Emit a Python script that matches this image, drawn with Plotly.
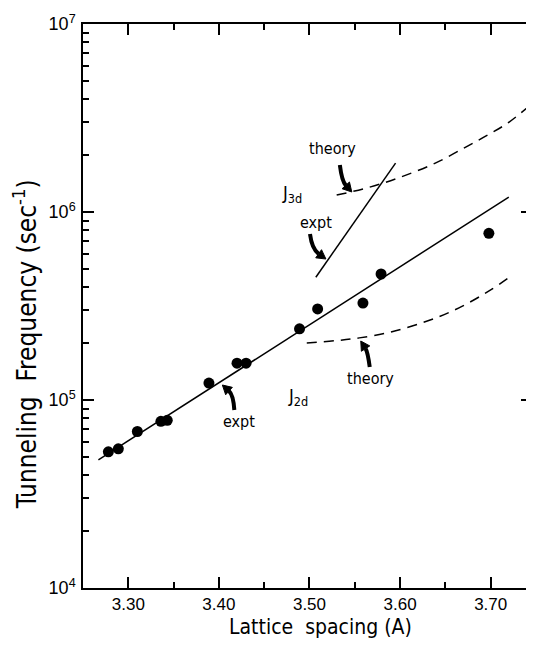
import plotly.graph_objects as go

# ---------------- data ----------------
expt_x = [3.278, 3.289, 3.310, 3.336, 3.343, 3.389, 3.420, 3.430, 3.489, 3.509, 3.559, 3.579, 3.698]
expt_y = [5.3e4, 5.5e4, 6.8e4, 7.7e4, 7.8e4, 1.23e5, 1.57e5, 1.57e5, 2.39e5, 3.05e5, 3.28e5, 4.68e5, 7.7e5]

fit2d_x = [3.267, 3.720]
fit2d_y = [4.8e4, 1.2e6]

fit3d_x = [3.507, 3.595]
fit3d_y = [4.5e5, 1.82e6]

theory2d_x = [3.497, 3.530, 3.555, 3.590, 3.630, 3.665, 3.700, 3.720]
theory2d_y = [2.01e5, 2.07e5, 2.14e5, 2.30e5, 2.63e5, 3.09e5, 3.85e5, 4.47e5]

theory3d_x = [3.530, 3.565, 3.600, 3.640, 3.675, 3.700, 3.720, 3.745]
theory3d_y = [1.23e6, 1.35e6, 1.53e6, 1.83e6, 2.25e6, 2.62e6, 3.00e6, 3.75e6]

x_major = [3.30, 3.40, 3.50, 3.60, 3.70]
x_major_labels = ["3.30", "3.40", "3.50", "3.60", "3.70"]
x_minor = [3.35, 3.45, 3.55, 3.65]
y_major = [1e4, 1e5, 1e6, 1e7]
y_major_labels = ["10<sup>4</sup>", "10<sup>5</sup>", "10<sup>6</sup>", "10<sup>7</sup>"]
y_minor = [m * 10 ** e for e in (4, 5, 6) for m in range(2, 10)]

# ---------------- layout geometry (window pixels; page body has 8px margin) ----------------
OFF = 8
WIN_W, WIN_H = 534, 649
W, H = WIN_W - OFF, WIN_H - OFF
PL, PT, PB = 83, 24, 588          # plot edges in window pixels
L, T, R = PL - OFF, PT - OFF, 0
B = WIN_H - PB
PW, PH = W - L - R, H - T - B
X0 = 3.25
X1 = X0 + PW / 910.0

NARROW = "DejaVu Sans Condensed, Liberation Sans Narrow, Arial Narrow, sans-serif"
REG = "Liberation Sans, Arial, sans-serif"


def px(xw, yw):
    """window pixel -> paper coordinates"""
    return ((xw - PL) / PW, (PB - yw) / PH)


def arrow_shapes(tail, ctrl, tip, headlen=9, headw=10, width=4):
    dx, dy = tip[0] - ctrl[0], tip[1] - ctrl[1]
    n = (dx * dx + dy * dy) ** 0.5
    ux, uy = dx / n, dy / n
    base = (tip[0] - ux * headlen, tip[1] - uy * headlen)
    pxv, pyv = -uy, ux
    b1 = (base[0] + pxv * headw / 2, base[1] + pyv * headw / 2)
    b2 = (base[0] - pxv * headw / 2, base[1] - pyv * headw / 2)
    t0, c0, e0 = px(*tail), px(*ctrl), px(*base)
    shaft = dict(type="path", xref="paper", yref="paper",
                 path=f"M{t0[0]},{t0[1]} Q{c0[0]},{c0[1]} {e0[0]},{e0[1]}",
                 line=dict(color="black", width=width))
    p1, p2, p3 = px(*tip), px(*b1), px(*b2)
    head = dict(type="path", xref="paper", yref="paper",
                path=f"M{p1[0]},{p1[1]} L{p2[0]},{p2[1]} L{p3[0]},{p3[1]} Z",
                fillcolor="black", line=dict(color="black", width=1))
    return [shaft, head]


fig = go.Figure()
fig.add_trace(go.Scatter(x=fit2d_x, y=fit2d_y, mode="lines",
                         line=dict(color="black", width=1.5), showlegend=False))
fig.add_trace(go.Scatter(x=fit3d_x, y=fit3d_y, mode="lines",
                         line=dict(color="black", width=1.5), showlegend=False))
fig.add_trace(go.Scatter(x=theory2d_x, y=theory2d_y, mode="lines",
                         line=dict(color="black", width=1.5, dash="10px,7px", shape="spline"),
                         showlegend=False))
fig.add_trace(go.Scatter(x=theory3d_x, y=theory3d_y, mode="lines",
                         line=dict(color="black", width=1.5, dash="10px,7px", shape="spline"),
                         showlegend=False))
fig.add_trace(go.Scatter(x=expt_x, y=expt_y, mode="markers",
                         marker=dict(color="black", size=11), showlegend=False))

shapes = []
shapes += arrow_shapes((341, 165), (343, 181), (353, 192))
shapes += arrow_shapes((311, 234), (313, 249), (327, 259))
shapes += arrow_shapes((235, 410), (234, 395), (223, 385))
shapes += arrow_shapes((371, 367), (369, 352), (362, 341))

annots = []


def label(text, xw, yw, size=16, font=NARROW, angle=0):
    x, y = px(xw, yw)
    annots.append(dict(text=text, x=x, y=y, xref="paper", yref="paper",
                       xanchor="center", yanchor="middle", showarrow=False,
                       textangle=angle, font=dict(family=font, size=size, color="black")))


label("theory", 334, 149)
label("expt", 317, 222)
label("J<sub>3d</sub>", 293, 194, size=18)
label("J<sub>2d</sub>", 299, 397, size=18)
label("expt", 240, 421)
label("theory", 372, 379)
label("Lattice  spacing (A)", 322, 627, size=21)
label("Tunneling  Frequency (sec<sup>-1</sup>)", 25, 344, size=26, angle=-90)

fig.update_layout(
    width=W, height=H,
    margin=dict(l=L, r=R, t=T, b=B),
    paper_bgcolor="white", plot_bgcolor="white",
    shapes=shapes, annotations=annots,
    xaxis=dict(range=[X0, X1], showgrid=False, zeroline=False,
               showline=True, linecolor="black", linewidth=1.5, mirror="ticks",
               tickvals=x_major, ticktext=x_major_labels,
               ticks="inside", ticklen=11, tickwidth=1.5, tickcolor="black",
               tickfont=dict(family=REG, size=17, color="black"),
               minor=dict(tickvals=x_minor, ticks="inside", ticklen=6,
                          tickwidth=1.5, tickcolor="black", showgrid=False)),
    yaxis=dict(type="log", range=[4, 7], showgrid=False, zeroline=False,
               showline=True, linecolor="black", linewidth=1.5, mirror="ticks",
               tickvals=y_major, ticktext=y_major_labels,
               ticks="inside", ticklen=11, tickwidth=1.5, tickcolor="black",
               tickfont=dict(family=REG, size=18, color="black"),
               ticklabelposition="outside", ticklabelstandoff=2,
               minor=dict(tickvals=y_minor, ticks="inside", ticklen=6,
                          tickwidth=1.5, tickcolor="black", showgrid=False)),
)

fig.write_html("out.html")
